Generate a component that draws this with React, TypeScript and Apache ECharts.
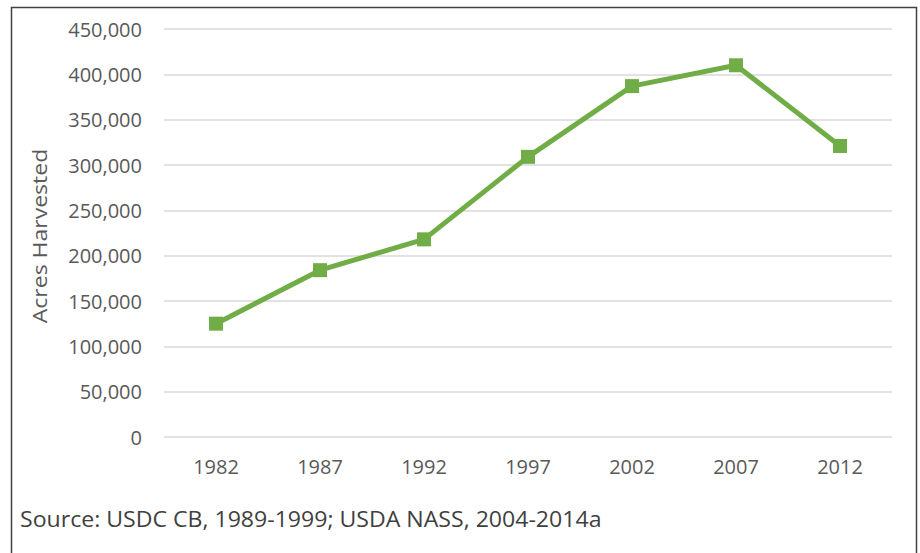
import React, { useEffect, useRef } from "react";
import * as echarts from "echarts";

const years = ["1982", "1987", "1992", "1997", "2002", "2007", "2012"];
const acres = [125000, 184000, 218000, 309000, 387000, 410000, 321000];
const yMin = 0;
const yMax = 450000;
const yInterval = 50000;
const yAxisTitle = "Acres Harvested";
const sourceText = "Source: USDC CB, 1989-1999; USDA NASS, 2004-2014a";

const FONT = "'Open Sans', 'Noto Sans', sans-serif";

export default function App() {
  const ref = useRef<HTMLDivElement>(null);
  useEffect(() => {
    if (!ref.current) return;
    const chart = echarts.init(ref.current, undefined, { renderer: "svg" });
    chart.setOption({
      animation: false,
      backgroundColor: "#ffffff",
      grid: { left: 164, right: 28, top: 29, bottom: 116, containLabel: false },
      xAxis: {
        type: "category",
        data: years,
        boundaryGap: true,
        axisLine: { show: false },
        axisTick: { show: false },
        axisLabel: { color: "#595959", fontSize: 20, fontFamily: FONT, margin: 19 },
      },
      yAxis: {
        type: "value",
        min: yMin,
        max: yMax,
        interval: yInterval,
        axisLine: { show: false },
        axisTick: { show: false },
        splitLine: { lineStyle: { color: "#d9d9d9", width: 1.5 } },
        axisLabel: {
          color: "#595959",
          fontSize: 20,
          fontFamily: FONT,
          margin: 22,
          formatter: (v: number) => v.toLocaleString("en-US"),
        },
      },
      series: [
        {
          type: "line",
          data: acres,
          symbol: "rect",
          symbolSize: 14,
          lineStyle: { color: "#70ad47", width: 5 },
          itemStyle: { color: "#70ad47" },
        },
      ],
      graphic: [
        {
          type: "rect",
          shape: { x: 11.5, y: 7.5, width: 905, height: 600 },
          style: { fill: "none", stroke: "#404040", lineWidth: 1.5 },
          silent: true,
        },
        {
          type: "text",
          x: 39,
          y: 236,
          rotation: Math.PI / 2,
          scaleX: 1.15,
          scaleY: 1,
          style: {
            text: yAxisTitle,
            fill: "#595959",
            fontSize: 20,
            fontFamily: FONT,
            align: "center",
            verticalAlign: "middle",
          },
        },
        {
          type: "text",
          x: 20,
          y: 518,
          scaleX: 1.1,
          scaleY: 1,
          style: {
            text: sourceText,
            fill: "#404040",
            fontSize: 21,
            fontFamily: FONT,
            align: "left",
            verticalAlign: "middle",
          },
        },
      ],
    });
    return () => chart.dispose();
  }, []);
  return (
    <div
      ref={ref}
      style={{ position: "absolute", left: 0, top: 0, width: 920, height: 553 }}
    />
  );
}
